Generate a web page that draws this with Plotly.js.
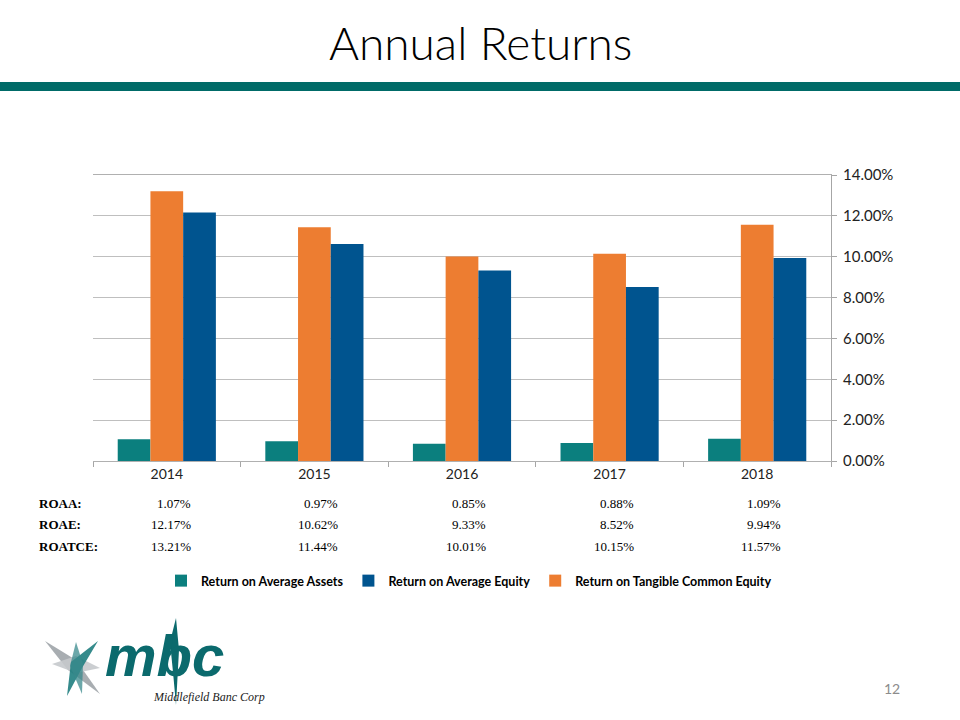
<!DOCTYPE html>
<html>
<head>
<meta charset="utf-8">
<script src="https://cdn.plot.ly/plotly-3.0.1.min.js"></script>
<style>html,body{margin:0;padding:0;background:#fff;}#chart{width:960px;height:720px;}</style>
</head>
<body>
<div id="chart"></div>
<script>
const years = ['2014', '2015', '2016', '2017', '2018'];
const roaa = [1.07, 0.97, 0.85, 0.88, 1.09];
const roae = [12.17, 10.62, 9.33, 8.52, 9.94];
const roatce = [13.21, 11.44, 10.01, 10.15, 11.57];
const rowLabels = ['ROAA:', 'ROAE:', 'ROATCE:'];
const seriesNames = ['Return on Average Assets', 'Return on Average Equity', 'Return on Tangible Common Equity'];
const colors = {teal: '#0B7F7E', blue: '#00548F', orange: '#ED7D31'};

// plot area in pixels
const L = 93, R = 831, T = 175, B = 461;
const px = x => (x - L) / (R - L);
const py = y => (B - y) / (B - T);

const traces = [
  {type: 'bar', x: years, y: roaa, name: seriesNames[0], marker: {color: colors.teal}, legendrank: 1},
  {type: 'bar', x: years, y: roatce, name: seriesNames[2], marker: {color: colors.orange}, legendrank: 3},
  {type: 'bar', x: years, y: roae, name: seriesNames[1], marker: {color: colors.blue}, legendrank: 2}
];

const annotations = [];
// title
annotations.push({xref: 'paper', yref: 'paper', x: 0.5 * (px(0) + px(960)), y: py(42), text: 'Annual Returns',
  showarrow: false, xanchor: 'center', yanchor: 'middle',
  font: {family: 'Lato, "Open Sans", sans-serif', size: 46, color: '#000', weight: 300}});

// data table
const rows = [roaa, roae, roatce];
const rowY = [503, 524, 546];
rows.forEach((vals, ri) => {
  annotations.push({xref: 'paper', yref: 'paper', x: px(37), y: py(rowY[ri]), text: '<b>' + rowLabels[ri] + '</b>',
    showarrow: false, xanchor: 'left', yanchor: 'middle',
    font: {family: '"Liberation Serif", "Times New Roman", serif', size: 13, color: '#000'}});
  vals.forEach((v, ci) => {
    annotations.push({xref: 'x', yref: 'paper', x: ci, y: py(rowY[ri]), xshift: 26,
      text: v.toFixed(2) + '%', showarrow: false, xanchor: 'right', yanchor: 'middle',
      font: {family: '"Liberation Serif", "Times New Roman", serif', size: 13, color: '#000'}});
  });
});

// logo text
annotations.push({xref: 'paper', yref: 'paper', x: px(103), y: py(655), text: '<b><i>mbc</i></b>',
  showarrow: false, xanchor: 'left', yanchor: 'middle',
  font: {family: '"Liberation Sans", Arial, sans-serif', size: 58, color: '#0B6A6D'}});
annotations.push({xref: 'paper', yref: 'paper', x: px(151), y: py(697), text: '<i>Middlefield Banc Corp</i>',
  showarrow: false, xanchor: 'left', yanchor: 'middle',
  font: {family: '"Liberation Serif", "Times New Roman", serif', size: 12, color: '#222'}});
// page number
annotations.push({xref: 'paper', yref: 'paper', x: px(902), y: py(688), text: '12',
  showarrow: false, xanchor: 'right', yanchor: 'middle',
  font: {family: 'Lato, sans-serif', size: 14, color: '#8C8C8C'}});

function pathPx(pts) {
  return 'M' + pts.map(p => px(p[0]).toFixed(5) + ',' + py(p[1]).toFixed(5)).join(' L') + ' Z';
}

const shapes = [
  // teal rule under title
  {type: 'rect', xref: 'paper', yref: 'paper', x0: px(0), x1: px(960), y0: py(91), y1: py(82),
   fillcolor: '#006B68', line: {width: 0}, layer: 'above'},
  // logo star: gray diagonal blade
  {type: 'path', xref: 'paper', yref: 'paper', path: pathPx([[45, 641], [76, 660], [100, 694], [68, 670]]),
   fillcolor: '#A8ADB1', line: {width: 0}},
  // light gray horizontal blade
  {type: 'path', xref: 'paper', yref: 'paper', path: pathPx([[52, 664], [76, 656], [100, 668], [76, 673]]),
   fillcolor: '#C5C9CC', line: {width: 0}, opacity: 0.9},
  // teal diagonal blade
  {type: 'path', xref: 'paper', yref: 'paper', path: pathPx([[98, 641], [82, 668], [67, 696], [71, 662]]),
   fillcolor: '#1F7E80', line: {width: 0}, opacity: 0.9},
  // teal vertical blade
  {type: 'path', xref: 'paper', yref: 'paper', path: pathPx([[76, 642], [83, 664], [82, 694], [70, 666]]),
   fillcolor: '#3A8A8C', line: {width: 0}, opacity: 0.75},
  // vertical spike through b
  {type: 'path', xref: 'paper', yref: 'paper', path: pathPx([[170, 642], [176, 618], [179, 650], [176, 705], [173, 672]]),
   fillcolor: '#0B6A6D', line: {width: 0}}
];

const layout = {
  width: 960, height: 720,
  margin: {l: L, r: 960 - R, t: T, b: 720 - B, pad: 0},
  paper_bgcolor: '#fff', plot_bgcolor: '#fff',
  barmode: 'group', bargap: 0.335, bargroupgap: 0,
  font: {family: 'Lato, "Open Sans", sans-serif', color: '#222'},
  xaxis: {
    type: 'category', range: [-0.5, 4.5], autorange: false, showgrid: false, showline: true, mirror: true,
    linecolor: '#B0B0B0', linewidth: 1,
    ticks: 'outside', tickson: 'boundaries', ticklen: 5, tickcolor: '#A6A6A6', tickangle: 0,
    tickfont: {family: 'Lato, sans-serif', size: 14, color: '#222'}, fixedrange: true
  },
  yaxis: {
    side: 'right', range: [0, 14], autorange: false, dtick: 2, tick0: 0, ticksuffix: '%', tickformat: '.2f',
    showgrid: true, gridcolor: '#BFBFBF', gridwidth: 1, showline: true, linecolor: '#A6A6A6', linewidth: 1,
    ticks: 'outside', ticklen: 5, tickcolor: '#A6A6A6', zeroline: false, ticklabelstandoff: 3,
    tickfont: {family: 'Lato, sans-serif', size: 15, color: '#222'}, fixedrange: true
  },
  showlegend: true,
  legend: {orientation: 'h', x: px(161), y: py(581), xanchor: 'left', yanchor: 'middle',
    font: {family: 'Lato, sans-serif', size: 12.5, color: '#000', weight: 'bold'}, itemwidth: 30,
    traceorder: 'normal', bgcolor: 'rgba(0,0,0,0)'},
  annotations: annotations,
  shapes: shapes
};

Plotly.newPlot('chart', traces, layout, {displayModeBar: false, staticPlot: true});
</script>
</body>
</html>
